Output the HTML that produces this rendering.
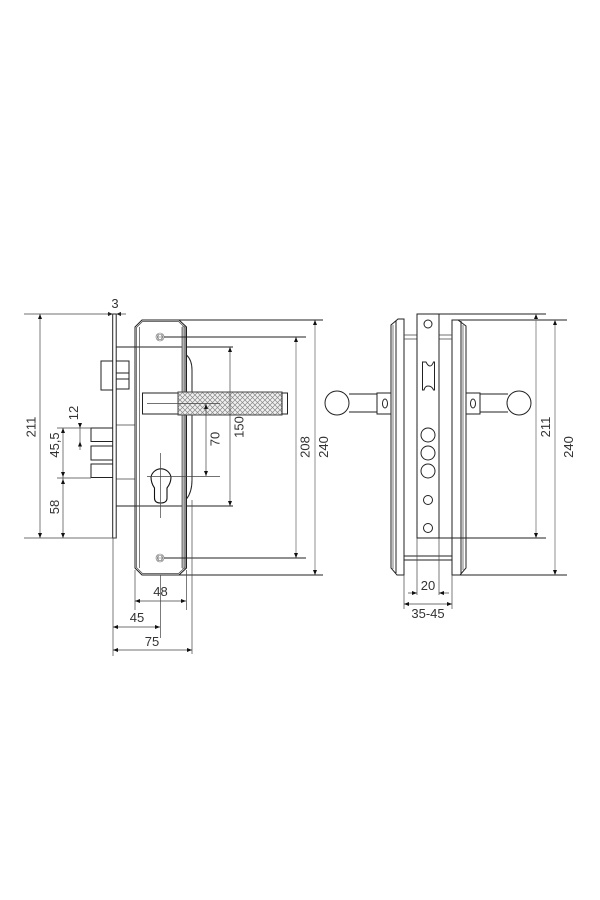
<!DOCTYPE html>
<html>
<head>
<meta charset="utf-8">
<style>
html,body{margin:0;padding:0;background:#fff;width:600px;height:900px;overflow:hidden}
svg{display:block}
text{font-family:"Liberation Sans",sans-serif;font-size:13px;fill:#333;text-anchor:middle}
.o{fill:none;stroke:#222;stroke-width:1}
.t{fill:none;stroke:#444;stroke-width:.7}
.g{fill:none;stroke:#777;stroke-width:.8}
.f{fill:#fff;stroke:#222;stroke-width:1}
.a{fill:#111;stroke:none}
</style>
</head>
<body>
<svg width="600" height="900" viewBox="0 0 600 900" xmlns="http://www.w3.org/2000/svg">
<defs>
<pattern id="k" width="5" height="5" patternUnits="userSpaceOnUse">
<rect width="5" height="5" fill="#f0f0f0"/>
<path d="M0 0L5 5M5 0L0 5" stroke="#888" stroke-width=".7"/>
</pattern>
</defs>

<!-- LEFT VIEW: lock case -->
<path class="o" d="M116 347H233M116 506H233"/>
<path class="t" d="M116 425H135M116 479H135"/>
<rect class="o" x="101" y="361" width="15" height="29"/>
<path class="o" d="M116 361H129V389H116M116 373H129M116 379H129"/>
<path class="o" d="M113 428H91V441.500H113M113 446H91V460H113M113 464H91V477.500H113"/>
<rect class="f" x="112.700" y="314" width="3.500" height="224"/>

<!-- faceplate -->
<rect x="182" y="326" width="4.300" height="243" fill="#b4b4b4"/>
<path class="o" d="M135 327L142 320H179L186.500 327V568L179 575H142L135 568Z"/>
<path class="t" d="M136.500 327.500L142.500 321.500H178.500L185 327.500V567.500L178.500 573.500H142.500L136.500 567.500Z"/>
<path class="t" d="M139.500 327V568"/>
<path class="t" d="M182 327V568"/>
<path class="o" d="M186.500 355Q192 360 192 370V480Q192 492 186.500 499"/>

<!-- screws -->
<g fill="none" stroke="#666" stroke-width=".6">
<circle cx="160" cy="337" r="4"/><circle cx="160" cy="337" r="2.500"/><path d="M158 334V340M162 334V340M157 337H163"/>
<circle cx="160" cy="558" r="4"/><circle cx="160" cy="558" r="2.500"/><path d="M158 555V561M162 555V561M157 558H163"/>
</g>

<!-- handle -->
<rect class="f" x="142.500" y="393" width="36" height="21"/>
<rect x="178" y="392" width="104" height="23" fill="url(#k)" stroke="#444" stroke-width="1"/>
<rect class="f" x="282" y="393" width="5.500" height="21"/>
<path class="t" d="M147 403.500H220"/>

<!-- cylinder -->
<path fill="#fff" stroke="#111" stroke-width="1.100" d="M154.500 488V498Q154.500 503 160.500 503Q167 503 167 498V488Q171 483 171 477A10.200 10.200 0 0 0 151 477Q151 483 154.500 488Z"/>
<path class="t" d="M160.500 453V518M147 476.500H220"/>

<!-- left dimensions -->
<path class="t" d="M24 314H113M24 538H116M57 428H91M57 478H91"/>
<path class="t" d="M40 314V538M63 428V538M80 423V450"/>
<path class="a" d="M40 314l-2 5h4zM40 538l-2-5h4zM63 428l-2 5h4zM63 477l-2-5h4zM63 479l-2 5h4zM63 538l-2-5h4zM80 428l-2-5h4zM80 441.500l-2 5h4zM113 314l-5-2v4zM116 314l5-2v4z"/>
<path class="t" d="M107 314H113M116 314H126"/>
<text x="115" y="308">3</text>
<text transform="translate(35.500,427) rotate(-90)">211</text>
<text transform="translate(59,445) rotate(-90)">45,5</text>
<text transform="translate(59,507) rotate(-90)">58</text>
<text transform="translate(78,413) rotate(-90)">12</text>

<!-- right-of-plate dimensions -->
<path class="t" d="M206 403V476M230 347V506"/>
<path class="g" d="M296 337V558M315 320V575"/>
<path class="o" stroke-width=".8" d="M164 337H306M164 558H306M165 320H323M165 575H323"/>
<path class="a" d="M206 404l-2 5h4zM206 476l-2-5h4zM230 347l-2 5h4zM230 506l-2-5h4zM296 337l-2 5h4zM296 558l-2-5h4zM315 320l-2 5h4zM315 575l-2-5h4z"/>
<text transform="translate(219.500,439) rotate(-90)">70</text>
<text transform="translate(243.500,427) rotate(-90)">150</text>
<text transform="translate(309.500,447) rotate(-90)">208</text>
<text transform="translate(328,447) rotate(-90)">240</text>

<!-- bottom dimensions -->
<path class="t" d="M113 538V656M135 570V610M186.500 570V610M192 500V654M160.500 575V638"/>
<path class="t" d="M135 601H186M113 627H160M113 650H192"/>
<path class="a" d="M135 601l5-2v4zM186 601l-5-2v4zM113 627l5-2v4zM160 627l-5-2v4zM113 650l5-2v4zM192 650l-5-2v4z"/>
<text x="160.500" y="596">48</text>
<text x="137" y="622">45</text>
<text x="152" y="646">75</text>

<!-- RIGHT VIEW -->
<g class="o">
<path d="M404 575V319H398L391 325V568L397 575Z"/>
<path class="t" d="M393 325V569"/>
<path d="M396 321V573"/>
<path d="M452 575V320H458L466 326V568L460 575Z"/>
<path class="t" d="M463 325V570"/>
<path d="M461 321V574"/>
</g>
<path class="t" d="M404 335H417M404 339H417M439 335H452M439 339H452"/>
<path class="o" d="M404 556H452M404 560H452"/>
<rect class="f" x="417" y="314" width="22" height="224"/>
<g class="o" stroke-width=".9">
<circle cx="428" cy="324" r="4"/>
<circle cx="428" cy="435" r="7"/><circle cx="428" cy="453" r="7"/><circle cx="428" cy="471" r="7"/>
<circle cx="428" cy="500" r="4.500"/><circle cx="428" cy="528" r="4.500"/>
<path d="M422.500 362H426Q428 366 430 366Q432 366 433.500 362H434.500V390H433.500Q432 386 428 386Q425 386 424 390H422.500Z"/>
</g>

<!-- handles -->
<path class="o" d="M349 394H377M349 412H377M480 394H508M480 412H508"/>
<rect class="f" x="377" y="393" width="14" height="21"/>
<rect class="f" x="466" y="393" width="14" height="21"/>
<ellipse class="o" cx="385" cy="403.500" rx="2.500" ry="4.500"/>
<ellipse class="o" cx="473" cy="403.500" rx="2.500" ry="4.500"/>
<circle class="f" cx="337" cy="403" r="12"/>
<circle class="f" cx="519" cy="403" r="12"/>

<!-- right view dimensions -->
<path class="t" d="M417 538V595M439 538V595M404 575V609M452 575V609"/>
<path class="t" d="M408 593H417M439 593H449M404 604H452"/>
<path class="a" d="M417 593l-5-2v4zM439 593l5-2v4zM404 604l5-2v4zM452 604l-5-2v4z"/>
<text x="428" y="590">20</text>
<text x="428" y="618">35-45</text>

<path class="o" stroke-width=".8" d="M417 314H546M452 320H567M417 538H546M460 575H567"/>
<path class="g" d="M536 314V538M555 320V575"/>
<path class="a" d="M536 314l-2 5h4zM536 538l-2-5h4zM555 320l-2 5h4zM555 575l-2-5h4z"/>
<text transform="translate(550,427) rotate(-90)">211</text>
<text transform="translate(573,447) rotate(-90)">240</text>
</svg>
</body>
</html>
